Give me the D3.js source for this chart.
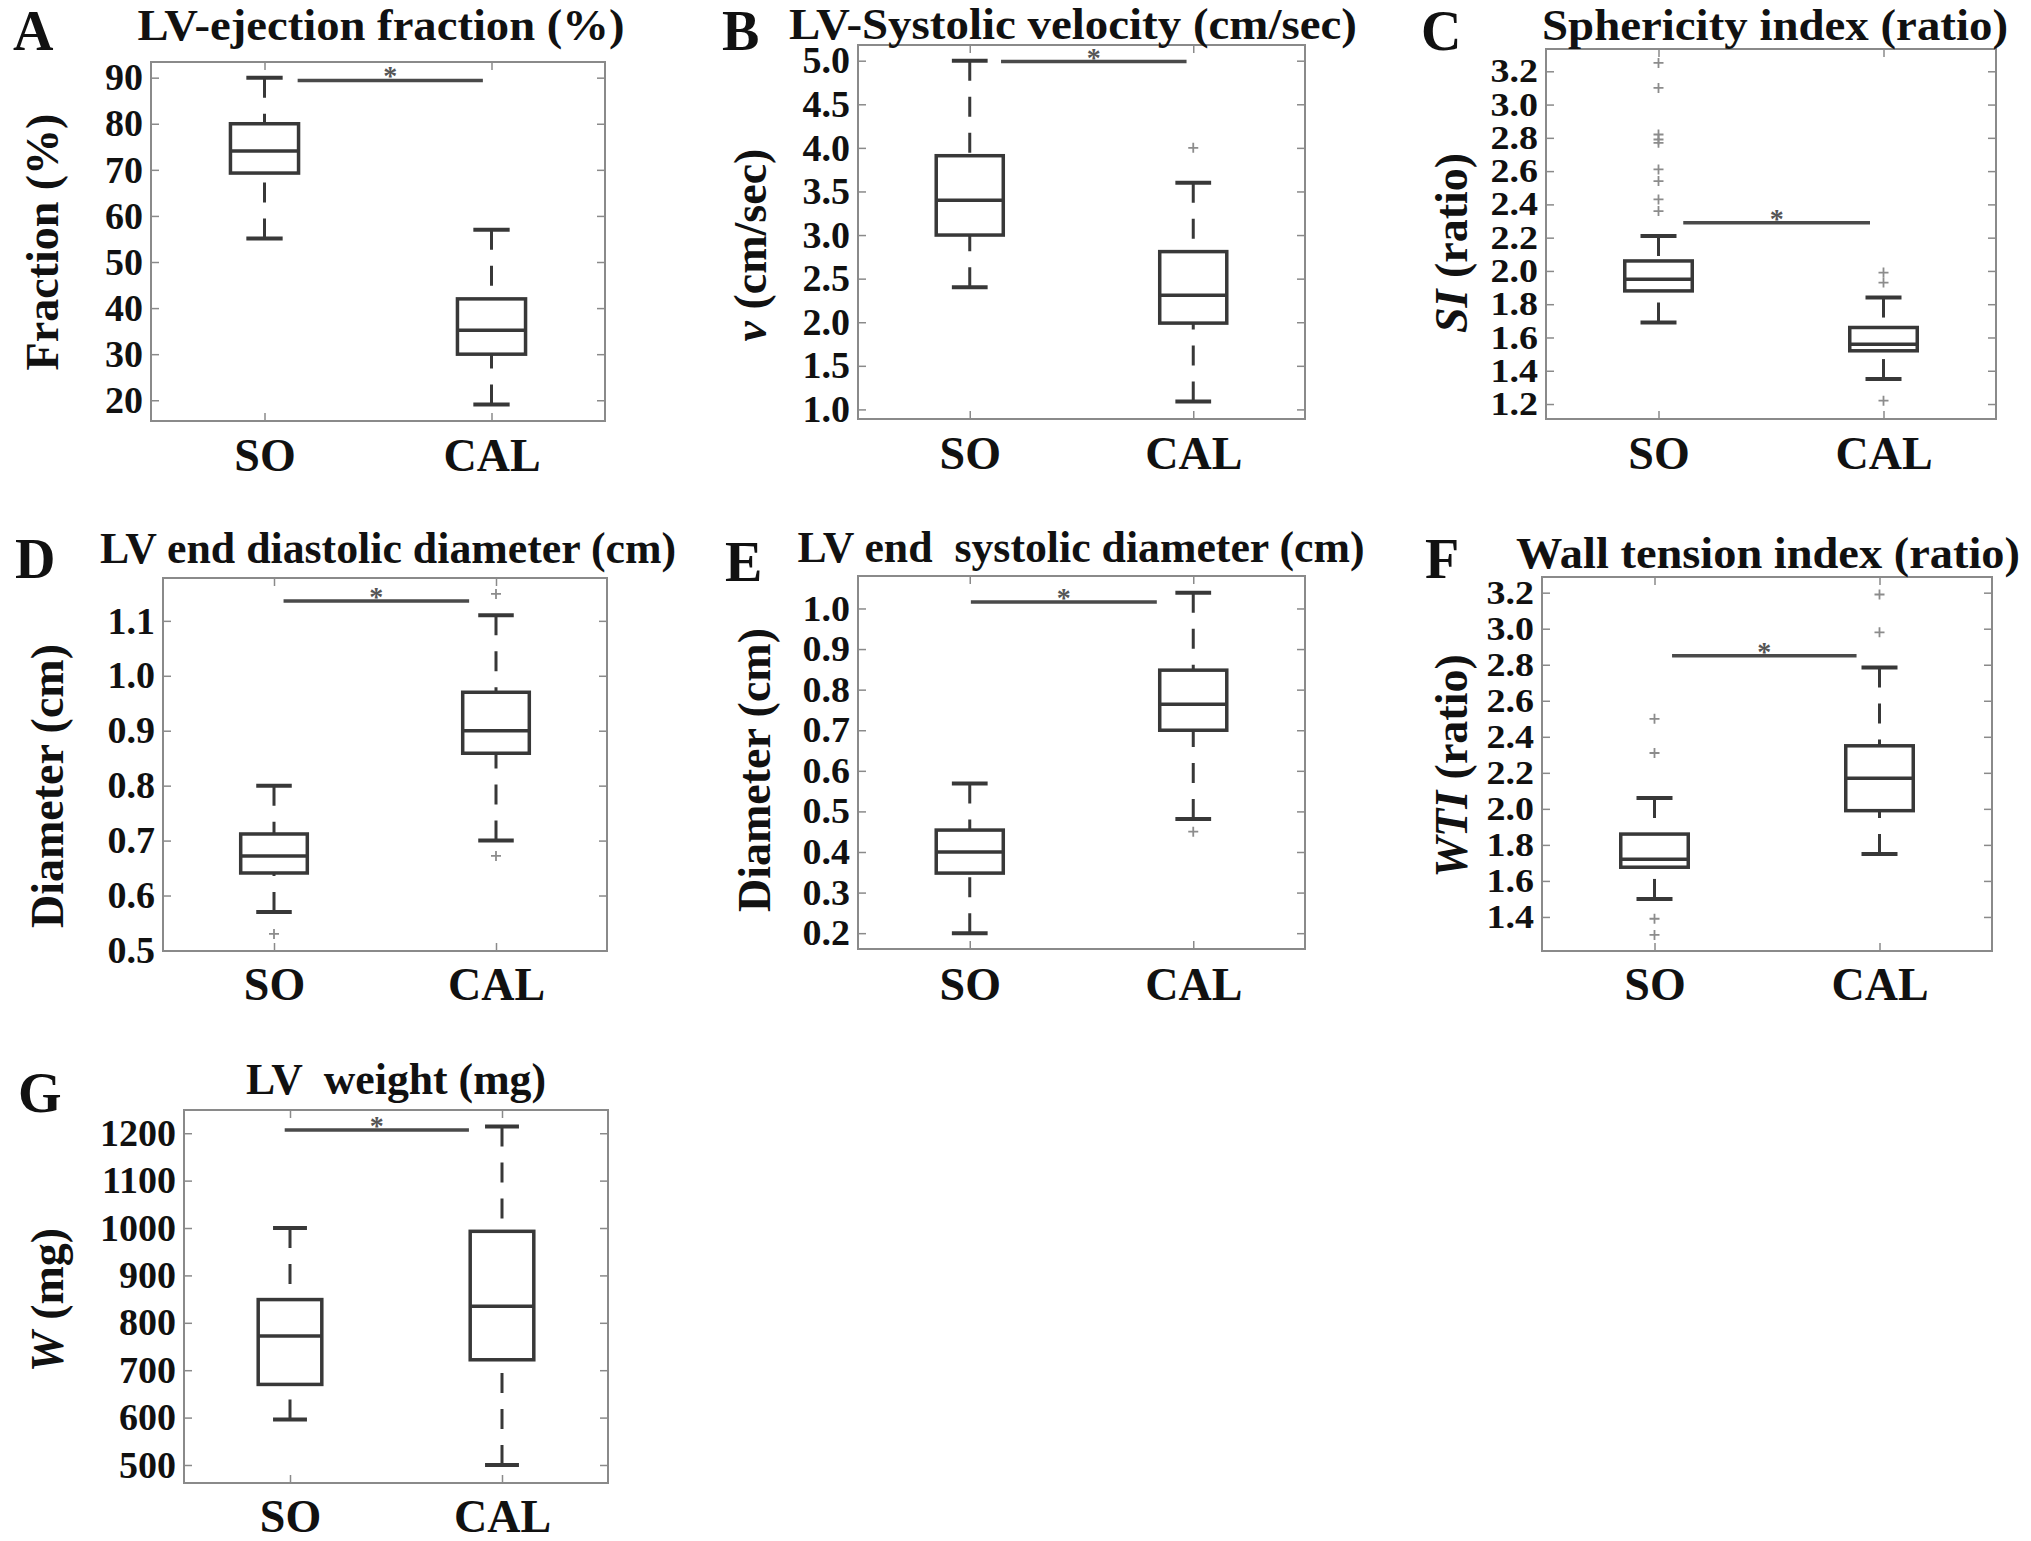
<!DOCTYPE html>
<html>
<head>
<meta charset="utf-8">
<script src="https://cdn.jsdelivr.net/npm/d3@7"></script>
<style>
body { margin: 0; background: #fff; }
</style>
</head>
<body>
<div id="fig"></div>
<script>
// values: [lower whisker, Q1, median, Q3, upper whisker]
var panelIds = ["A", "B", "C", "D", "E", "F", "G"]
var groups = ["SO", "CAL"]
var titles = ["LV-ejection fraction (%)", "LV-Systolic velocity (cm/sec)", "Sphericity index (ratio)",
              "LV end diastolic diameter (cm)", "LV end  systolic diameter (cm)", "Wall tension index (ratio)",
              "LV  weight (mg)"]
// [text, italic]
var yLabels = [[["Fraction (%)", false]],
               [["v", true], [" (cm/sec)", false]],
               [["SI", true], [" (ratio)", false]],
               [["Diameter (cm)", false]],
               [["Diameter (cm)", false]],
               [["WTI", true], [" (ratio)", false]],
               [["W", true], [" (mg)", false]]]

var soStats = [[55.1, 69.3, 74.1, 80, 90],
               [2.4, 3.0, 3.4, 3.91, 5.0],
               [1.69, 1.88, 1.95, 2.06, 2.21],
               [0.57, 0.641, 0.672, 0.712, 0.80],
               [0.20, 0.348, 0.40, 0.454, 0.569],
               [1.50, 1.676, 1.72, 1.86, 2.06],
               [596, 670, 772, 849, 1000]]
var calStats = [[19.1, 30, 35.2, 42, 57],
                [1.09, 1.99, 2.31, 2.81, 3.6],
                [1.35, 1.52, 1.56, 1.66, 1.84],
                [0.70, 0.859, 0.90, 0.97, 1.11],
                [0.481, 0.70, 0.764, 0.848, 1.039],
                [1.75, 1.99, 2.17, 2.35, 2.785],
                [500, 722, 835, 993, 1214]]
var soOutliers = [[], [], [3.25, 3.10, 2.82, 2.79, 2.77, 2.61, 2.54, 2.43, 2.36], [0.53], [], [2.50, 2.31, 1.39, 1.30], []]
var calOutliers = [[], [4.0], [1.99, 1.93, 1.22], [1.149, 0.672], [0.45], [3.19, 2.98], []]
var sigLevels = [89.4, 4.99, 2.29, 1.136, 1.016, 2.85, 1207]

var yTicks = [[20, 30, 40, 50, 60, 70, 80, 90],
              [1.0, 1.5, 2.0, 2.5, 3.0, 3.5, 4.0, 4.5, 5.0],
              [1.2, 1.4, 1.6, 1.8, 2.0, 2.2, 2.4, 2.6, 2.8, 3.0, 3.2],
              [0.5, 0.6, 0.7, 0.8, 0.9, 1.0, 1.1],
              [0.2, 0.3, 0.4, 0.5, 0.6, 0.7, 0.8, 0.9, 1.0],
              [1.4, 1.6, 1.8, 2.0, 2.2, 2.4, 2.6, 2.8, 3.0, 3.2],
              [500, 600, 700, 800, 900, 1000, 1100, 1200]]
var yDomains = [[15.5, 93.4], [0.89, 5.18], [1.11, 3.334], [0.499, 1.178], [0.161, 1.080], [1.211, 3.287], [462, 1249]]
var tickFormats = ["d", ".1f", ".1f", ".1f", ".1f", ".1f", "d"]

// page layout (pixels), significance bar span in group units
var layout = [
    {x0: 151, x1: 605, y0: 62, y1: 421, titleX: 381, titleY: 40, titleW: 487, letterX: 13, letterY: 50,
     labX: 58, labY: 242, xLabY: 471, tickSize: 38, sig: [1.146, 1.962]},
    {x0: 858, x1: 1305, y0: 45, y1: 419, titleX: 1073, titleY: 39, titleW: 568, letterX: 722, letterY: 50,
     labX: 766, labY: 245, xLabY: 469, tickSize: 38, sig: [1.14, 1.97]},
    {x0: 1546, x1: 1996, y0: 49, y1: 419, titleX: 1775, titleY: 40, titleW: 466, letterX: 1421, letterY: 50,
     labX: 1467, labY: 243, xLabY: 469, tickSize: 33, sig: [1.11, 1.94]},
    {x0: 163, x1: 607, y0: 578, y1: 951, titleX: 388, titleY: 563, titleW: 576, letterX: 15, letterY: 578,
     labX: 63, labY: 786, xLabY: 1000, tickSize: 38, sig: [1.043, 1.879]},
    {x0: 858, x1: 1305, y0: 576, y1: 949, titleX: 1081, titleY: 562, titleW: 567, letterX: 725, letterY: 581,
     labX: 770, labY: 770, xLabY: 1000, tickSize: 36, sig: [1.005, 1.837]},
    {x0: 1542, x1: 1992, y0: 577, y1: 951, titleX: 1768, titleY: 568, titleW: 504, letterX: 1425, letterY: 578,
     labX: 1467, labY: 766, xLabY: 1000, tickSize: 34, sig: [1.078, 1.898]},
    {x0: 184, x1: 608, y0: 1110, y1: 1483, titleX: 396, titleY: 1094, titleW: 300, letterX: 18, letterY: 1112,
     labX: 63, labY: 1300, xLabY: 1532, tickSize: 38, sig: [0.975, 1.844]}
]

var font = "'Liberation Serif', 'Times New Roman', serif"
var boxColor = "#383838"
var frameColor = "#8a8a8a"
var boxWidth = 0.30
var capWidth = 0.16

var svg = d3.select("#fig").append("svg")
            .attr("width", 2031)
            .attr("height", 1541)
            .style("font-family", font)

panelIds.forEach(function(id, i) {
    var L = layout[i]
    var g = svg.append("g")

    var x = d3.scaleLinear().domain([0.5, 2.5]).range([L.x0, L.x1])
    var y = d3.scaleLinear().domain(yDomains[i]).range([L.y1, L.y0])

    // frame
    g.append("rect")
     .attr("x", L.x0).attr("y", L.y0)
     .attr("width", L.x1 - L.x0).attr("height", L.y1 - L.y0)
     .attr("fill", "none").attr("stroke", frameColor).attr("stroke-width", 2)

    // y axis, ticks inside
    var left = g.append("g").attr("transform", `translate(${L.x0},0)`)
                .call(d3.axisLeft(y).tickValues(yTicks[i]).tickFormat(d3.format(tickFormats[i]))
                        .tickSizeInner(-8).tickSizeOuter(0).tickPadding(8))
    left.select(".domain").remove()
    left.selectAll("line").attr("stroke", frameColor).attr("stroke-width", 1.5)
    var stretch = 38 / L.tickSize
    left.selectAll("text").attr("font-family", font).attr("font-size", L.tickSize)
        .attr("font-weight", "bold").attr("fill", "#111")
        .attr("x", null)
        .attr("transform", `translate(-8,0) scale(${stretch},1)`)

    var right = g.append("g").attr("transform", `translate(${L.x1},0)`)
                 .call(d3.axisRight(y).tickValues(yTicks[i]).tickFormat("")
                         .tickSizeInner(-8).tickSizeOuter(0))
    right.select(".domain").remove()
    right.selectAll("line").attr("stroke", frameColor).attr("stroke-width", 1.5)

    // x axis with group labels, mirrored ticks on top
    var bottom = g.append("g").attr("transform", `translate(0,${L.y1})`)
                  .call(d3.axisBottom(x).tickValues([1, 2]).tickFormat(function(d) { return groups[d - 1] })
                          .tickSizeInner(-8).tickSizeOuter(0))
    bottom.select(".domain").remove()
    bottom.selectAll("line").attr("stroke", frameColor).attr("stroke-width", 1.5)
    bottom.selectAll("text").attr("font-family", font).attr("font-size", 46)
          .attr("font-weight", "bold").attr("fill", "#111")
          .attr("y", L.xLabY - L.y1).attr("dy", 0)

    var top = g.append("g").attr("transform", `translate(0,${L.y0})`)
               .call(d3.axisTop(x).tickValues([1, 2]).tickFormat("").tickSizeInner(-8).tickSizeOuter(0))
    top.select(".domain").remove()
    top.selectAll("line").attr("stroke", frameColor).attr("stroke-width", 1.5)

    // boxes
    var stats = [soStats[i], calStats[i]]
    var outs = [soOutliers[i], calOutliers[i]]
    var px = x(1 + boxWidth / 2) - x(1)
    var cx = x(1 + capWidth / 2) - x(1)

    stats.forEach(function(s, k) {
        var c = x(k + 1)
        var bg = g.append("g").attr("stroke", boxColor).attr("fill", "none")
        // whiskers, drawn from the caps toward the box
        bg.append("line").attr("x1", c).attr("x2", c).attr("y1", y(s[4])).attr("y2", y(s[3]))
          .attr("stroke-width", 3).attr("stroke-dasharray", "20,16")
        bg.append("line").attr("x1", c).attr("x2", c).attr("y1", y(s[0])).attr("y2", y(s[1]))
          .attr("stroke-width", 3).attr("stroke-dasharray", "20,16")
        // caps
        bg.selectAll(".cap").data([s[0], s[4]]).enter().append("line")
          .attr("x1", c - cx).attr("x2", c + cx)
          .attr("y1", function(d) { return y(d) }).attr("y2", function(d) { return y(d) })
          .attr("stroke-width", 4)
        // box + median
        bg.append("rect").attr("x", c - px).attr("width", 2 * px)
          .attr("y", y(s[3])).attr("height", y(s[1]) - y(s[3]))
          .attr("stroke-width", 3.5)
        bg.append("line").attr("x1", c - px).attr("x2", c + px)
          .attr("y1", y(s[2])).attr("y2", y(s[2])).attr("stroke-width", 3.5)
        // outliers
        g.selectAll(null).data(outs[k]).enter().append("path")
         .attr("d", function(d) { return `M${c - 5},${y(d)}h10M${c},${y(d) - 5}v10` })
         .attr("stroke", "#8c8c8c").attr("stroke-width", 1.8)
    })

    // significance bar
    var sy = y(sigLevels[i])
    g.append("line").attr("x1", x(L.sig[0])).attr("x2", x(L.sig[1]))
     .attr("y1", sy).attr("y2", sy).attr("stroke", "#4a4a4a").attr("stroke-width", 3.5)
    g.append("text").attr("x", x((L.sig[0] + L.sig[1]) / 2)).attr("y", sy + 5)
     .attr("text-anchor", "middle").attr("font-size", 28).attr("font-weight", "bold")
     .attr("fill", "#555").text("*")

    // title, panel letter, y label
    g.append("text").attr("x", L.titleX).attr("y", L.titleY)
     .attr("text-anchor", "middle").attr("font-size", 45).attr("font-weight", "bold")
     .attr("textLength", L.titleW).attr("lengthAdjust", "spacingAndGlyphs")
     .attr("fill", "#111").style("white-space", "pre").text(titles[i])
    g.append("text").attr("x", L.letterX).attr("y", L.letterY)
     .attr("font-size", 56).attr("font-weight", "bold").attr("fill", "#111").text(id)

    var lab = g.append("text")
               .attr("transform", `translate(${L.labX},${L.labY}) rotate(-90)`)
               .attr("text-anchor", "middle").attr("font-size", 46).attr("font-weight", "bold")
               .attr("fill", "#111").style("white-space", "pre")
    yLabels[i].forEach(function(p) {
        lab.append("tspan").attr("font-style", p[1] ? "italic" : "normal").text(p[0])
    })
})
</script>
</body>
</html>
